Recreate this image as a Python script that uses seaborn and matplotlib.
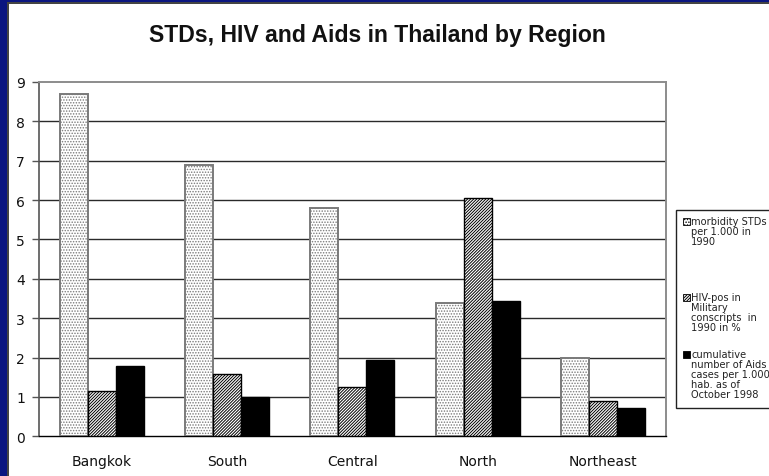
import matplotlib
matplotlib.use("Agg")
import matplotlib.pyplot as plt
from matplotlib.patches import Rectangle
import seaborn as sns
import pandas as pd

regions = ["Bangkok", "South", "Central", "North", "Northeast"]
std_morbidity = [8.7, 6.9, 5.8, 3.38, 1.98]
hiv_conscripts = [1.15, 1.57, 1.25, 6.05, 0.9]
aids_cumulative = [1.78, 1.0, 1.93, 3.43, 0.73]
series_labels = [
    "morbidity STDs\nper 1.000 in\n1990",
    "HIV-pos in\nMilitary\nconscripts  in\n1990 in %",
    "cumulative\nnumber of Aids\ncases per 1.000\nhab. as of\nOctober 1998",
]
y_ticks = list(range(0, 10))
title = "STDs, HIV and Aids in Thailand by Region"

sns.set_theme(style="white")
plt.rcParams["font.family"] = ["DejaVu Sans"]
plt.rcParams["hatch.linewidth"] = 0.7

W, H = 769, 477
fig = plt.figure(figsize=(W / 100, H / 100), dpi=100, facecolor="white")


def fx(px):
    return px / W


def fy(py):
    return 1 - py / H


# navy slide frame on the left and top edges, with a thin shadow line
fig.patches.append(Rectangle((0, 0), fx(7), 1, transform=fig.transFigure,
                             facecolor="#0a1580", edgecolor="none", zorder=0))
fig.patches.append(Rectangle((0, fy(3)), 1, fy(0) - fy(3), transform=fig.transFigure,
                             facecolor="#0a1580", edgecolor="none", zorder=0))
fig.patches.append(Rectangle((fx(7), 0), fx(1.5), fy(3), transform=fig.transFigure,
                             facecolor="#444444", edgecolor="none", zorder=0))
fig.patches.append(Rectangle((fx(7), fy(4.5)), 1, fy(3) - fy(4.5), transform=fig.transFigure,
                             facecolor="#444444", edgecolor="none", zorder=0))

ax = fig.add_axes([fx(39), fy(437.3), fx(665.7 - 39), fy(83) - fy(437.3)])

df = pd.DataFrame({
    "region": regions * 3,
    "value": std_morbidity + hiv_conscripts + aids_cumulative,
    "series": [series_labels[0]] * 5 + [series_labels[1]] * 5 + [series_labels[2]] * 5,
})

sns.barplot(data=df, x="region", y="value", hue="series", order=regions,
            hue_order=series_labels, width=0.67, gap=0, legend=False, ax=ax,
            saturation=1, err_kws={"linewidth": 0})

styles = [
    dict(facecolor="white", edgecolor="#7a7a7a", hatch="......", linewidth=1.4),
    dict(facecolor="white", edgecolor="black", hatch="///////////", linewidth=1.0),
    dict(facecolor="black", edgecolor="black", hatch=None, linewidth=1.0),
]
for container, st in zip(ax.containers, styles):
    for bar in container:
        bar.set_facecolor(st["facecolor"])
        bar.set_edgecolor(st["edgecolor"])
        bar.set_linewidth(st["linewidth"])
        if st["hatch"]:
            bar.set_hatch(st["hatch"])
        bar.set_zorder(3)

ax.set_ylim(0, 9)
ax.set_xlim(-0.5, len(regions) - 0.5)
ax.set_yticks(y_ticks)
ax.set_yticklabels([str(t) for t in y_ticks], fontsize=10, color="#111111")
ax.set_xticks(range(len(regions)))
ax.set_xticklabels(regions, fontsize=10, color="#111111")
ax.set_xticks([i - 0.5 for i in range(len(regions) + 1)], minor=True)
ax.tick_params(axis="x", which="major", length=0, pad=13)
ax.tick_params(axis="x", which="minor", length=4, width=1.0, color="black", direction="out")
ax.tick_params(axis="y", which="major", length=5, width=1.0, color="#555555",
               direction="out", pad=5, left=True)
ax.set_xlabel("")
ax.set_ylabel("")

for t in y_ticks[1:-1]:
    ax.axhline(t, color="#2a2a2a", linewidth=1.0, zorder=1)

ax.spines["top"].set_color("#8c8c8c")
ax.spines["top"].set_linewidth(1.4)
ax.spines["right"].set_color("#8c8c8c")
ax.spines["right"].set_linewidth(1.4)
ax.spines["left"].set_color("#555555")
ax.spines["left"].set_linewidth(1.2)
ax.spines["bottom"].set_color("black")
ax.spines["bottom"].set_linewidth(1.0)
for s in ax.spines.values():
    s.set_visible(True)

fig.text(fx(377.5), fy(41.7), title, ha="center", va="baseline",
         fontsize=16.6, fontweight="bold", family=["Liberation Sans", "DejaVu Sans"],
         color="#111111")

# legend box, extending past the right edge of the figure
fig.patches.append(Rectangle((fx(676), fy(409)), fx(120), fy(210.7) - fy(409),
                             transform=fig.transFigure, facecolor="white",
                             edgecolor="#222222", linewidth=1.0, zorder=2))
first_line = [222, 298, 355]
for st, label, y0 in zip(styles, series_labels, first_line):
    fig.patches.append(Rectangle((fx(683), fy(y0 + 3.5)), fx(7), fy(y0 - 3.5) - fy(y0 + 3.5),
                                 transform=fig.transFigure, facecolor=st["facecolor"],
                                 edgecolor="black", hatch=st["hatch"], linewidth=0.6,
                                 zorder=3))
    for k, line in enumerate(label.split("\n")):
        fig.text(fx(691), fy(y0 + 10 * k), line, ha="left", va="center",
                 fontsize=7.1, color="#222222", zorder=4)

fig.savefig("out.png", dpi=100, facecolor="white")
